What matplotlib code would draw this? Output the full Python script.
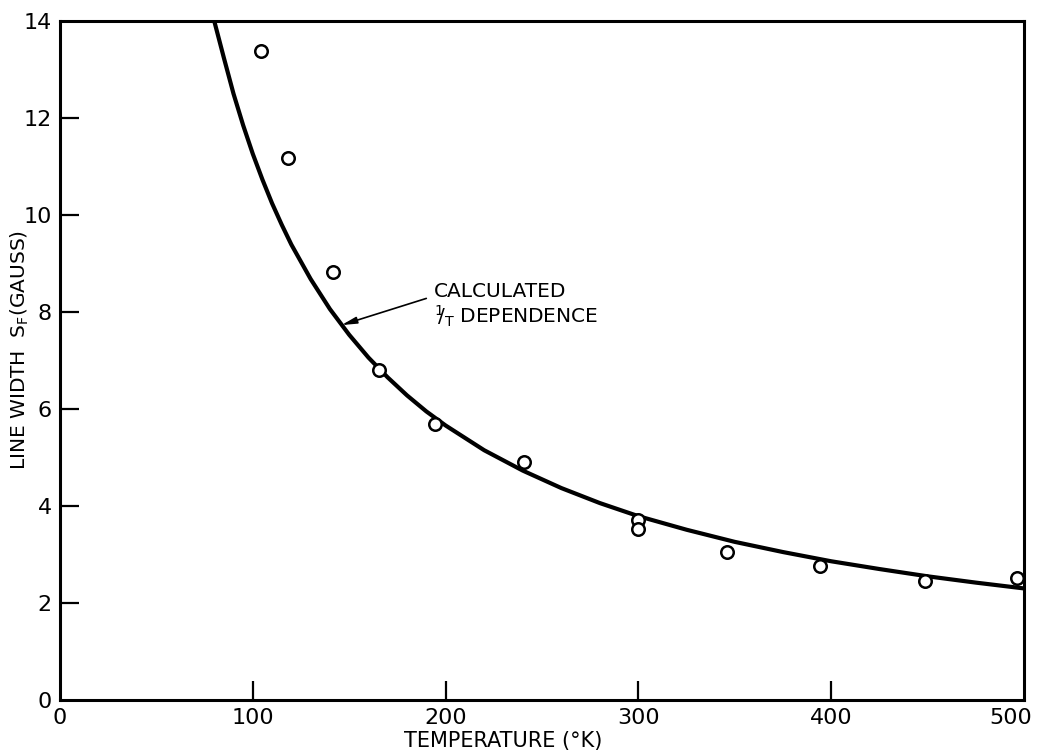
import matplotlib
matplotlib.use("Agg")
import matplotlib.pyplot as plt
import matplotlib.transforms as mtransforms

# ─── Data ────────────────────────────────────────────────────────────────────
# measured points
temp_meas  = [104, 118.5, 141.6, 165.4, 194.5, 240.9, 300, 300, 345.8, 394.1, 448.4, 496.2]
width_meas = [13.38, 11.17, 8.83, 6.80, 5.70, 4.91, 3.71, 3.52, 3.06, 2.76, 2.46, 2.52]

# calculated 1/T curve
temp_calc  = [80, 85, 90, 95, 100, 105, 110, 115, 120, 130, 140, 150, 160, 170, 180,
              190, 200, 220, 240, 260, 280, 300, 325, 350, 375, 400, 425, 450, 475, 500]
width_calc = [14.0, 13.24, 12.50, 11.85, 11.26, 10.73, 10.24, 9.80, 9.39, 8.68, 8.06,
              7.53, 7.06, 6.65, 6.28, 5.95, 5.66, 5.15, 4.73, 4.37, 4.06, 3.79, 3.51,
              3.26, 3.05, 2.86, 2.70, 2.55, 2.42, 2.30]

x_ticks = [0, 100, 200, 300, 400, 500]
y_ticks = [0, 2, 4, 6, 8, 10, 12, 14]

plt.rcParams['font.family'] = ['DejaVu Sans']
plt.rcParams['mathtext.fontset'] = 'dejavusans'

fig = plt.figure(figsize=(10.38, 7.5), dpi=100)
ax = fig.add_axes([0.0578, 0.0667, 0.9287, 0.9053])

ax.plot(temp_calc, width_calc, color='black', linewidth=3.0, solid_capstyle='butt',
        solid_joinstyle='round')
ax.plot(temp_meas, width_meas, linestyle='none', marker='o', markersize=9,
        markerfacecolor='white', markeredgecolor='black', markeredgewidth=1.8, zorder=3)

ax.set_xlim(0, 500)
ax.set_ylim(0, 14)
ax.set_xticks(x_ticks)
ax.set_yticks(y_ticks)
ax.set_xticklabels([str(v) for v in x_ticks])
ax.set_yticklabels([str(v) for v in y_ticks])
ax.tick_params(direction='in', length=14, width=1.6, labelsize=16, color='black')
ax.tick_params(axis='x', pad=6)
ax.tick_params(axis='y', pad=6)

# no tick marks at the corners
for t in (ax.xaxis.get_major_ticks()[0], ax.xaxis.get_major_ticks()[-1],
          ax.yaxis.get_major_ticks()[0], ax.yaxis.get_major_ticks()[-1]):
    t.tick1line.set_visible(False)

# last x label sits a little left of its tick, as in the original
last = ax.get_xticklabels()[-1]
last.set_transform(last.get_transform() +
                   mtransforms.ScaledTranslation(-0.13, 0, fig.dpi_scale_trans))

for s in ax.spines.values():
    s.set_linewidth(2.2)

ax.set_xlabel('TEMPERATURE (°K)', fontsize=15, labelpad=0)
ax.set_ylabel(r'LINE WIDTH  S$_\mathrm{F}$(GAUSS)', fontsize=14.5, labelpad=2)
ax.yaxis.set_label_coords(-0.030, 0.515)
ax.xaxis.set_label_coords(0.46, -0.045)

ax.annotate('', xy=(146, 7.73), xytext=(190, 8.28),
            arrowprops=dict(arrowstyle='-|>,head_length=0.9,head_width=0.2',
                            color='black', lw=1.2, shrinkA=0, shrinkB=0))
ax.text(194, 8.42, 'CALCULATED', fontsize=14.5, va='center', ha='left')
ax.text(194, 7.90, r'$^{1}\!\!/_{\mathrm{T}}$ DEPENDENCE', fontsize=14.5, va='center', ha='left')

fig.savefig('out.png', dpi=100)
